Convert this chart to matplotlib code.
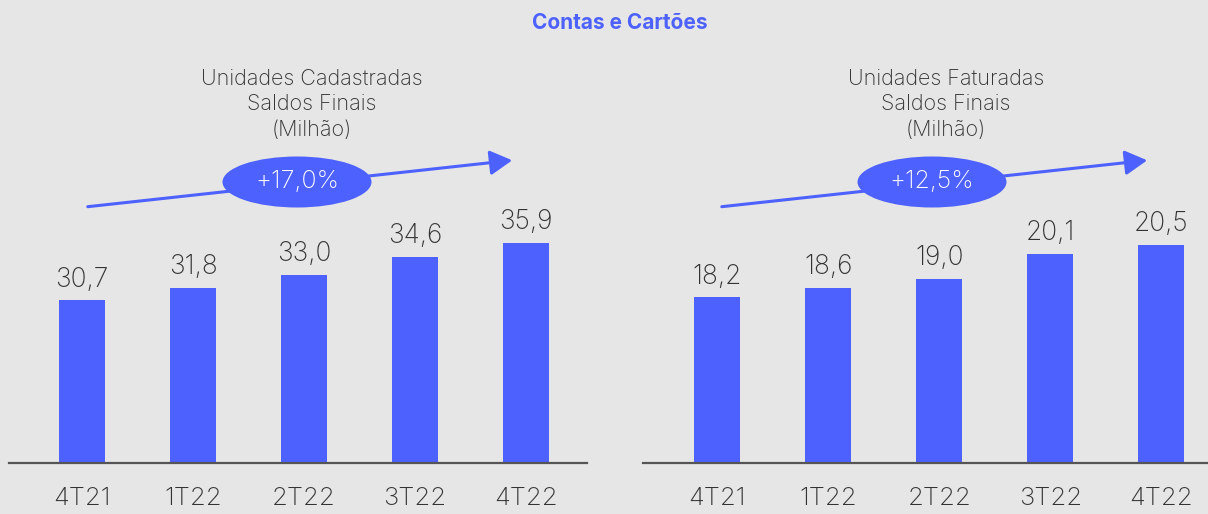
import matplotlib
matplotlib.use("Agg")
import matplotlib.pyplot as plt
from matplotlib.patches import Ellipse, FancyArrowPatch

# ---- data ----
categories = ["4T21", "1T22", "2T22", "3T22", "4T22"]
cadastradas = [30.7, 31.8, 33.0, 34.6, 35.9]
faturadas = [18.2, 18.6, 19.0, 20.1, 20.5]
title_main = "Contas e Cartões"
sub_left = "Unidades Cadastradas\nSaldos Finais\n(Milhão)"
sub_right = "Unidades Faturadas\nSaldos Finais\n(Milhão)"
growth_left = "+17,0%"
growth_right = "+12,5%"

BG = "#e6e6e6"
BLUE = "#4d61ff"
TXT = "#333333"
FONT = "Inter"

W, H = 1208, 514
fig = plt.figure(figsize=(W / 100, H / 100), dpi=100, facecolor=BG)

def px_axes(x0, x1, ybot, ytop):
    return fig.add_axes([x0 / W, (H - ybot) / H, (x1 - x0) / W, (ybot - ytop) / H])

def panel(x0, x1, xlim, vals, ylim):
    ax = px_axes(x0, x1, 463, 0)
    ax.set_facecolor("none")
    x = list(range(len(vals)))
    ax.bar(x, vals, width=0.415, color=BLUE, zorder=2)
    ax.set_xlim(*xlim)
    ax.set_ylim(*ylim)
    for s in ["top", "right", "left"]:
        ax.spines[s].set_visible(False)
    ax.spines["bottom"].set_color("#555555")
    ax.spines["bottom"].set_linewidth(1.6)
    ax.set_yticks([])
    ax.set_xticks(x)
    ax.set_xticklabels(categories, fontsize=18.5, color=TXT, family=FONT, fontweight="light")
    ax.tick_params(axis="x", length=0, pad=17)
    for xi, v in zip(x, vals):
        ax.annotate(f"{v:.1f}".replace(".", ","), (xi, v), xytext=(0, 10),
                    textcoords="offset points", ha="center", va="baseline",
                    fontsize=19, color=TXT, family=FONT, fontweight="light")
    return ax

panel(9, 587, (-0.658, 4.55), cadastradas, (16.0, 16.0 + 463 / 11.06))
panel(643, 1208, (-0.667, 4.42), faturadas, (10.94, 10.94 + 463 / 22.8))

def fx(px):
    return px / W

def fy(py):
    return (H - py) / H

fig.text(fx(620), fy(23), title_main, ha="center", va="center", fontsize=15,
         fontweight="bold", color=BLUE, family=FONT)
for cx, s in [(312, sub_left), (946, sub_right)]:
    fig.text(fx(cx), fy(104), s, ha="center", va="center", fontsize=15.5,
             color=TXT, family=FONT, fontweight="light", linespacing=1.35)

for (sx, sy, tx, ty, ex, ey, lab) in [(85, 207, 515, 160, 297, 182, growth_left),
                                       (719, 207, 1150, 160, 932, 182, growth_right)]:
    arr = FancyArrowPatch((fx(sx), fy(sy)), (fx(tx), fy(ty)), transform=fig.transFigure,
                          arrowstyle="-|>,head_length=9,head_width=5", color=BLUE,
                          linewidth=2.2, mutation_scale=1.5)
    fig.add_artist(arr)
    el = Ellipse((fx(ex), fy(ey)), 149 / W, 51 / H, transform=fig.transFigure,
                 facecolor=BLUE, edgecolor="none")
    fig.add_artist(el)
    fig.text(fx(ex), fy(ey), lab, ha="center", va="center", fontsize=18,
             color="white", family=FONT, fontweight="light")

fig.savefig("out.png", dpi=100, facecolor=BG)
